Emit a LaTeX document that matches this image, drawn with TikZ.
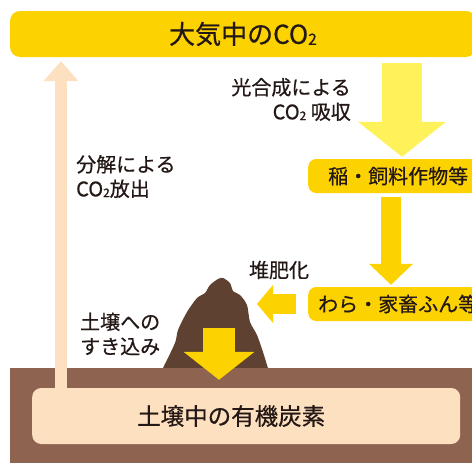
\documentclass[tikz,border=0pt]{standalone}
\usepackage{fontspec}
\setmainfont{Noto Sans CJK JP}[FakeBold=0.6]
\usetikzlibrary{arrows.meta}

\definecolor{gold}{HTML}{FCD200}
\definecolor{lemon}{HTML}{FFF15A}
\definecolor{peach}{HTML}{FDE0BF}
\definecolor{soil}{HTML}{8E6350}
\definecolor{compost}{HTML}{5E4131}
\definecolor{ink}{HTML}{231815}

\newcommand{\subtwo}{\raisebox{-0.04em}{\scalebox{0.6}{2}}}

\begin{document}
\begin{tikzpicture}[x=1pt, y=-1pt,
    every node/.style={text=ink},
    lbl/.style={inner sep=0pt, font=\fontsize{20}{24.5}\selectfont},
    crop/.style={fill=gold, rounded corners=8pt, anchor=west, minimum width=180pt,
        minimum height=34pt, inner ysep=0pt, font=\fontsize{20}{24}\selectfont},
    fat/.style n args={3}{line width=#1, -{Triangle[width=#2, length=#3, line width=0pt]}}]

	\useasboundingbox (0,0) rectangle (472,463);
	\clip (0,0) rectangle (472,463);

	%heap and soil
	\fill[compost] (163,372) -- plot[smooth, tension=0.45] coordinates {(163,368) (175,343) (178,330) (187,312) (197,298) (205,293) (210,285) (218,279) (223,278) (230,283) (233,291) (240,295) (247,305) (250,322) (257,335) (263,352) (267,365) (268,368)} -- (268,372) -- cycle;
	\fill[soil] (10,368) rectangle (480,470);

	%boxes
	\node[fill=gold, rounded corners=10pt, inner sep=0pt, minimum width=466pt, minimum height=46pt,
	      font=\fontsize{26}{30}\selectfont] (topbar) at (243,34) {大気中のCO\subtwo};
	\node[crop, inner xsep=17pt] (ine) at (308,176) {稲・飼料作物等};
	\node[crop, inner xsep=10pt] (wara) at (308,304) {わら・家畜ふん等};
	\node[fill=peach, rounded corners=9pt, anchor=west, text width=218pt, inner xsep=105pt,
	      minimum height=56pt, inner ysep=0pt, align=left,
	      font=\fontsize{23.5}{28}\selectfont] (soilc) at (32,416) {土壌中の有機炭素};

	\coordinate (up) at (61,0);
	\coordinate (down) at (402,0);
	\coordinate (feed) at (391,0);
	\coordinate (heapR) at (257,304);
	\coordinate (pile) at (219,328);

	%arrows
	\draw[fat={12pt}{35pt}{20pt}, peach, shorten >=4pt] (soilc.north -| up) -- (topbar.south -| up);
	\draw[fat={40pt}{88pt}{35pt}, lemon, shorten <=6pt, shorten >=2pt] (topbar.south -| down) -- (ine.north -| down);
	\draw[fat={20pt}{44pt}{21pt}, gold, shorten <=4pt, shorten >=2pt] (ine.south -| feed) -- (wara.north -| feed);
	\draw[fat={20pt}{38pt}{16pt}, gold, shorten <=12pt] (wara.west) -- (heapR);
	\draw[fat={32pt}{71pt}{28pt}, gold, shorten >=8pt] (pile) -- (soilc.north -| pile);

	%labels
	\node[lbl, align=right, anchor=east] (photo) at (351,99.5) {光合成による\\CO\subtwo\ 吸収};
	\node[lbl, align=left, anchor=west] (decomp) at (76,176.5) {分解による\\CO\subtwo 放出};
	\node[lbl] (compo) at (279,270) {堆肥化};
	\node[lbl, align=left, anchor=west] (plow) at (80,334) {土壌への\\すき込み};

\end{tikzpicture}
\end{document}
